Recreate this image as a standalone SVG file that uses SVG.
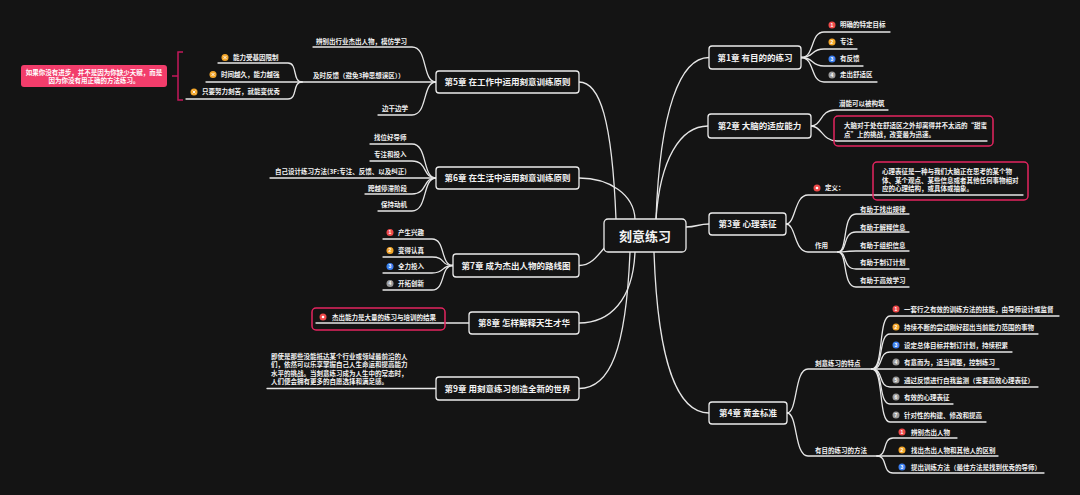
<svg xmlns="http://www.w3.org/2000/svg" width="1080" height="495" viewBox="0 0 1080 495">
<style>
.bg{fill:#141414}
.ln{fill:none;stroke:#e6e6e6;stroke-width:1.3;stroke-linecap:round}
.box{fill:#141414;stroke:#ececec;stroke-width:1.3}
.rbox{fill:none;stroke:#e3245f;stroke-width:1.5}
.t{font-family:"Noto Sans CJK SC","Noto Sans",sans-serif;fill:#f2f2f2;font-weight:bold}
.s{font-size:6.5px}
.c{font-size:8.5px;text-anchor:middle}
.n{font-family:"Liberation Sans",sans-serif;font-size:5px;fill:#fff;font-weight:bold;text-anchor:middle}
.i1{fill:#ee4a4a}.i2{fill:#f3a62a}.i3{fill:#3b7ff0}.i4{fill:#9a9a9a}
</style>
<rect class="bg" x="0" y="0" width="1080" height="495"/>

<g id="connectors">
<!-- center to chapters -->
<path class="ln" d="M656,219 C660,110 680,57.5 709,57.5"/>
<path class="ln" d="M656,219 C660,160 680,126 708,126"/>
<path class="ln" d="M686,227 C697,227 698,224 709,224"/>
<path class="ln" d="M654,252 C658,370 680,413 709,413"/>
<path class="ln" d="M616,219 C612,120 600,82 579,82"/>
<path class="ln" d="M635,219 C634,195 610,178 579,178"/>
<path class="ln" d="M606,246 C596,258 590,265.5 579,265.5"/>
<path class="ln" d="M635,252 C633,300 610,323 579,323"/>
<path class="ln" d="M630,252 C626,350 610,388.5 579,388.5"/>
<!-- ch1 -->
<path class="ln" d="M801,57.5 C815,57.5 810,32 824,32 H890"/>
<path class="ln" d="M801,57.5 C815,57.5 810,49 824,49 H857"/>
<path class="ln" d="M801,57.5 C815,57.5 810,66 824,66 H863"/>
<path class="ln" d="M801,57.5 C815,57.5 810,82 824,82 H877"/>
<!-- ch2 -->
<path class="ln" d="M811,126 C822,126 820,110 835,110 H888"/>
<path class="ln" d="M811,126 C822,126 822,141 837,141 H987"/>
<!-- ch3 -->
<path class="ln" d="M786,224 C796,224 794,195 808,195 H1023"/>
<path class="ln" d="M786,224 C796,224 794,252 808,252 H838"/>
<path class="ln" d="M838,252 C848,252 842,214 856,214 H909"/>
<path class="ln" d="M838,252 C848,252 842,232 856,232 H909"/>
<path class="ln" d="M838,252 C848,252 842,251 856,251 H909"/>
<path class="ln" d="M838,252 C848,252 842,269 856,269 H909"/>
<path class="ln" d="M838,252 C848,252 842,287 856,287 H909"/>
<!-- ch4 -->
<path class="ln" d="M787,413 C798,413 794,369 808,369 H872"/>
<path class="ln" d="M787,413 C798,413 794,456 808,456 H877"/>
<path class="ln" d="M872,369 C884,369 878,316 890,316 H1059"/>
<path class="ln" d="M872,369 C884,369 878,334 890,334 H1038"/>
<path class="ln" d="M872,369 C884,369 878,352 890,352 H1012"/>
<path class="ln" d="M872,369 H999"/>
<path class="ln" d="M872,369 C884,369 878,387 890,387 H1038"/>
<path class="ln" d="M872,369 C884,369 878,404 890,404 H953"/>
<path class="ln" d="M872,369 C884,369 878,422 890,422 H986"/>
<path class="ln" d="M877,456 C888,456 882,438 893,438 H957"/>
<path class="ln" d="M877,456 H998"/>
<path class="ln" d="M877,456 C888,456 882,473 893,473 H1044"/>
<!-- ch5 -->
<path class="ln" d="M436,82 C422,82 428,47 412,47 H313"/>
<path class="ln" d="M436,82 H302"/>
<path class="ln" d="M436,82 C422,82 428,115 412,115 H378"/>
<path class="ln" d="M302,82 C292,82 298,63 288,63 H218"/>
<path class="ln" d="M302,82 H206"/>
<path class="ln" d="M302,82 C292,82 298,99 288,99 H186"/>
<path d="M183,52 H178 V100 H183 M178,76 H172" fill="none" stroke="#c2185b" stroke-width="1.5"/>
<!-- ch6 -->
<path class="ln" d="M436,178 C422,178 428,144 412,144 H370"/>
<path class="ln" d="M436,178 C422,178 428,161 412,161 H370"/>
<path class="ln" d="M436,178 H270"/>
<path class="ln" d="M436,178 C422,178 428,194 412,194 H365"/>
<path class="ln" d="M436,178 C422,178 428,211 412,211 H378"/>
<!-- ch7 -->
<path class="ln" d="M453,265.5 C440,265.5 446,239 432,239 H383"/>
<path class="ln" d="M453,265.5 C440,265.5 446,257 432,257 H383"/>
<path class="ln" d="M453,265.5 C440,265.5 446,273 432,273 H383"/>
<path class="ln" d="M453,265.5 C440,265.5 446,290 432,290 H383"/>
<!-- ch8 -->
<path class="ln" d="M469,323 H316"/>
<!-- ch9 -->
<path class="ln" d="M436,388.5 H267"/>
</g>

<g id="center">
<rect class="box" x="604" y="219" width="82" height="33" rx="4"/>
<text class="t" x="645" y="240.5" font-size="13" text-anchor="middle">刻意练习</text>
</g>

<g id="ch1">
<rect class="box" x="709" y="46" width="92" height="23" rx="3"/>
<text class="t c" x="755" y="60.5">第1章 有目的的练习</text>
<circle class="i1" cx="832" cy="25" r="3.5"/><text class="n" x="832" y="26.8">1</text>
<text class="t s" x="840" y="27.3">明确的特定目标</text>
<circle class="i2" cx="832" cy="42" r="3.5"/><text class="n" x="832" y="43.8">2</text>
<text class="t s" x="840" y="44.3">专注</text>
<circle class="i3" cx="832" cy="59" r="3.5"/><text class="n" x="832" y="60.8">3</text>
<text class="t s" x="840" y="61.3">有反馈</text>
<circle class="i4" cx="832" cy="75" r="3.5"/><text class="n" x="832" y="76.8">4</text>
<text class="t s" x="840" y="77.3">走出舒适区</text>
</g>

<g id="ch2">
<rect class="box" x="708" y="114" width="103" height="24" rx="3"/>
<text class="t c" x="759.5" y="129">第2章 大脑的适应能力</text>
<text class="t s" x="839" y="106.3">潜能可以被构筑</text>
<rect class="rbox" x="834" y="116" width="159" height="30" rx="4"/>
<text class="t s" x="844" y="128.3">大脑对于处在舒适区之外却离得并不太远的“甜蜜</text>
<text class="t s" x="844" y="136.6">点”上的挑战，改变最为迅速。</text>
</g>

<g id="ch3">
<rect class="box" x="709" y="213" width="77" height="22" rx="3"/>
<text class="t c" x="747.5" y="227">第3章 心理表征</text>
<circle class="i1" cx="817" cy="188" r="3.5"/><circle cx="817" cy="188" r="1.3" fill="#fff"/>
<text class="t s" x="825" y="190.3">定义：</text>
<rect class="rbox" x="873" y="162" width="155" height="38" rx="4"/>
<text class="t s" x="882" y="174.3">心理表征是一种与我们大脑正在思考的某个物</text>
<text class="t s" x="882" y="182.6">体、某个观点、某些信息或者其他任何事物相对</text>
<text class="t s" x="882" y="190.9">应的心理结构，或具体或抽象。</text>
<text class="t s" x="815" y="248.3">作用</text>
<text class="t s" x="860" y="212.3">有助于找出规律</text>
<text class="t s" x="860" y="230.3">有助于解释信息</text>
<text class="t s" x="860" y="247.8">有助于组织信息</text>
<text class="t s" x="860" y="265.3">有助于制订计划</text>
<text class="t s" x="860" y="283.3">有助于高效学习</text>
</g>

<g id="ch4">
<rect class="box" x="709" y="402" width="78" height="22" rx="3"/>
<text class="t c" x="748" y="416">第4章 黄金标准</text>
<text class="t s" x="815" y="365.5">刻意练习的特点</text>
<text class="t s" x="815" y="452.5">有目的练习的方法</text>
<circle class="i1" cx="896" cy="309" r="3.5"/><text class="n" x="896" y="310.8">1</text>
<text class="t s" x="904" y="311.5">一套行之有效的训练方法的技能，由导师设计或监督</text>
<circle class="i2" cx="896" cy="327" r="3.5"/><text class="n" x="896" y="328.8">2</text>
<text class="t s" x="904" y="329.5">持续不断的尝试刚好超出当前能力范围的事物</text>
<circle class="i3" cx="896" cy="345" r="3.5"/><text class="n" x="896" y="346.8">3</text>
<text class="t s" x="904" y="347.5">设定总体目标并制订计划，持续积累</text>
<circle class="i4" cx="896" cy="362" r="3.5"/><text class="n" x="896" y="363.8">4</text>
<text class="t s" x="904" y="364.5">有意而为，适当调整，控制练习</text>
<circle class="i4" cx="896" cy="380" r="3.5"/><text class="n" x="896" y="381.8">5</text>
<text class="t s" x="904" y="382.5">通过反馈进行自我监测（需要高效心理表征）</text>
<circle class="i4" cx="896" cy="397" r="3.5"/><text class="n" x="896" y="398.8">6</text>
<text class="t s" x="904" y="399.5">有效的心理表征</text>
<circle class="i4" cx="896" cy="415" r="3.5"/><text class="n" x="896" y="416.8">7</text>
<text class="t s" x="904" y="417.5">针对性的构建、修改和提高</text>
<circle class="i1" cx="902" cy="432" r="3.5"/><text class="n" x="902" y="433.8">1</text>
<text class="t s" x="911" y="434.5">辨别杰出人物</text>
<circle class="i2" cx="902" cy="450" r="3.5"/><text class="n" x="902" y="451.8">2</text>
<text class="t s" x="911" y="452.5">找出杰出人物和其他人的区别</text>
<circle class="i3" cx="902" cy="467" r="3.5"/><text class="n" x="902" y="468.8">3</text>
<text class="t s" x="911" y="469.5">提出训练方法（最佳方法是找到优秀的导师）</text>
</g>

<g id="ch5">
<rect class="box" x="436" y="71" width="143" height="22" rx="3"/>
<text class="t c" x="507.5" y="85">第5章 在工作中运用刻意训练原则</text>
<text class="t s" x="316" y="43.5">辨别出行业杰出人物，模仿学习</text>
<text class="t s" x="313" y="78">及时反馈（避免3种思想误区））</text>
<text class="t s" x="382" y="111">边干边学</text>
<circle class="i2" cx="225" cy="57.5" r="3.5"/><path d="M223.6,56.1 L226.4,58.9 M226.4,56.1 L223.6,58.9" stroke="#fff" stroke-width="0.9"/>
<text class="t s" x="233" y="59.8">能力受基因限制</text>
<circle class="i2" cx="213" cy="74.5" r="3.5"/><path d="M211.6,73.1 L214.4,75.9 M214.4,73.1 L211.6,75.9" stroke="#fff" stroke-width="0.9"/>
<text class="t s" x="221" y="76.8">时间越久，能力越强</text>
<circle class="i2" cx="194" cy="92" r="3.5"/><path d="M192.6,90.6 L195.4,93.4 M195.4,90.6 L192.6,93.4" stroke="#fff" stroke-width="0.9"/>
<text class="t s" x="202" y="94.3">只要努力刻苦，就能变优秀</text>
</g>

<g id="summary">
<rect x="21" y="65" width="146" height="22" rx="3" fill="#f23d6b"/>
<text class="t s" x="94" y="74.5" text-anchor="middle" style="fill:#fff">如果你没有进步，并不是因为你缺少天赋，而是</text>
<text class="t s" x="94" y="83" text-anchor="middle" style="fill:#fff">因为你没有用正确的方法练习。</text>
</g>

<g id="ch6">
<rect class="box" x="436" y="167" width="143" height="22" rx="3"/>
<text class="t c" x="507.5" y="181">第6章 在生活中运用刻意训练原则</text>
<text class="t s" x="374" y="140">找位好导师</text>
<text class="t s" x="374" y="157">专注和投入</text>
<text class="t s" x="275" y="174">自己设计练习方法(3F:专注、反馈、以及纠正)</text>
<text class="t s" x="368" y="190.5">跨越停滞阶段</text>
<text class="t s" x="381" y="207">保持动机</text>
</g>

<g id="ch7">
<rect class="box" x="453" y="254" width="126" height="23" rx="3"/>
<text class="t c" x="516" y="268.5">第7章 成为杰出人物的路线图</text>
<circle class="i1" cx="390" cy="232.5" r="3.5"/><text class="n" x="390" y="234.3">1</text>
<text class="t s" x="398" y="235">产生兴趣</text>
<circle class="i2" cx="390" cy="250.5" r="3.5"/><text class="n" x="390" y="252.3">2</text>
<text class="t s" x="398" y="253">变得认真</text>
<circle class="i3" cx="390" cy="266.5" r="3.5"/><text class="n" x="390" y="268.3">3</text>
<text class="t s" x="398" y="269">全力投入</text>
<circle class="i4" cx="390" cy="283.5" r="3.5"/><text class="n" x="390" y="285.3">4</text>
<text class="t s" x="398" y="286">开拓创新</text>
</g>

<g id="ch8">
<rect class="box" x="469" y="312" width="110" height="22" rx="3"/>
<text class="t c" x="524" y="326">第8章 怎样解释天生才华</text>
<rect class="rbox" x="312" y="308" width="133" height="22" rx="4"/>
<circle class="i1" cx="323" cy="317" r="3.5"/><circle cx="323" cy="317" r="1.3" fill="#fff"/>
<text class="t s" x="332" y="319.5">杰出能力是大量的练习与培训的结果</text>
</g>

<g id="ch9">
<rect class="box" x="436" y="377" width="143" height="23" rx="3"/>
<text class="t c" x="507.5" y="391.5">第9章 用刻意练习创造全新的世界</text>
<text class="t s" x="271" y="358.5">即使是那些没能抵达某个行业或领域最前沿的人</text>
<text class="t s" x="271" y="367">们，依然可以乐享掌握自己人生命运和提高能力</text>
<text class="t s" x="271" y="375.5">水平的挑战。当刻意练习成为人生中的常态时，</text>
<text class="t s" x="271" y="384">人们便会拥有更多的自愿选择和满足感。</text>
</g>
</svg>
